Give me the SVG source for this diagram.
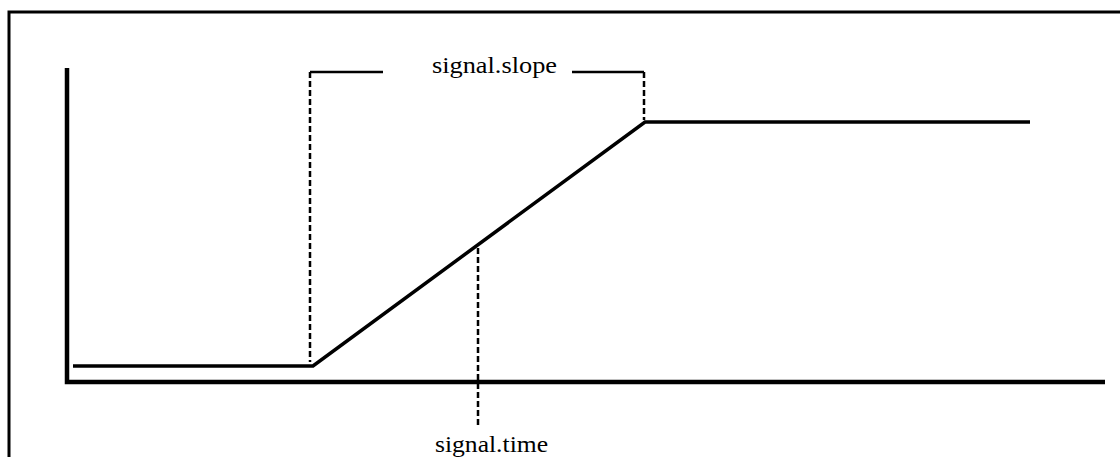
<svg xmlns="http://www.w3.org/2000/svg" width="1120" height="457" viewBox="0 0 1120 457">
<style>
.frame{fill:none;stroke:#000;stroke-width:3}
.axis{fill:none;stroke:#000;stroke-width:4.5}
.sig{fill:none;stroke:#000;stroke-width:3.5;stroke-linejoin:miter}
.dash{fill:none;stroke:#000;stroke-width:2.5;stroke-dasharray:6,3}
.solid{fill:none;stroke:#000;stroke-width:2.5}
.lbl{font-family:"Liberation Serif","Times New Roman",serif;font-size:24px;fill:#000}
</style>
<rect width="1120" height="457" fill="#fff"/>
<g id="frame"><path class="frame" d="M9,458 V12 H1121"/></g>
<g id="axes">
<path class="axis" d="M67,68 V382 H1105"/>
</g>
<g id="signal">
<path class="sig" d="M73,366 H313 L645,122 H1030"/>
</g>
<g id="connectors">
<path class="dash" d="M310,72 V362"/>
<path class="solid" d="M310,72 H383"/>
<path class="solid" d="M572,72 H644"/>
<path class="dash" d="M644,72 V120"/>
<path class="dash" d="M478,248 V427"/>
</g>
<g id="label-slope"><text class="lbl" x="432" y="73" textLength="125" lengthAdjust="spacingAndGlyphs">signal.slope</text></g>
<g id="label-time"><text class="lbl" x="435" y="452" textLength="113" lengthAdjust="spacingAndGlyphs">signal.time</text></g>
</svg>
